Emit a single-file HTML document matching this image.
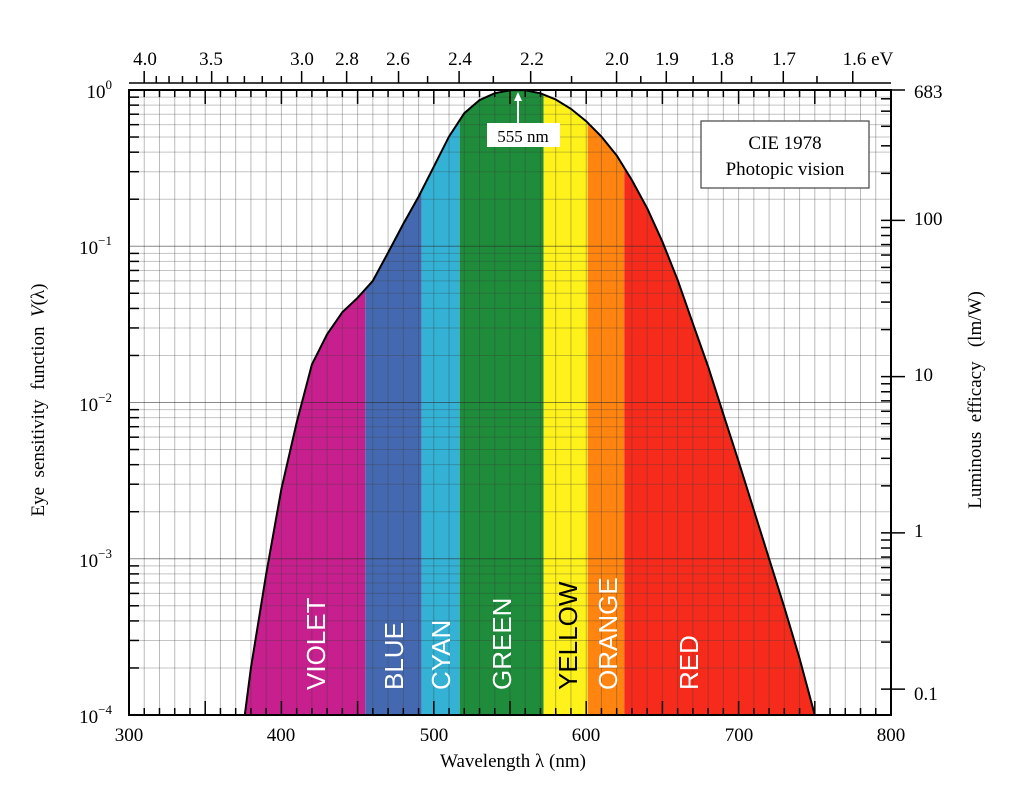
<!DOCTYPE html>
<html><head><meta charset="utf-8"><style>
html,body{margin:0;padding:0;background:#fff;}
svg{display:block;font-family:"Liberation Serif",serif;}
</style></head><body>
<svg id="s" width="1024" height="790" viewBox="0 0 1024 790" xmlns="http://www.w3.org/2000/svg">
<g id="bands"></g>
<g id="grid"></g>
<g id="ticks"></g>
<rect x="129" y="90" width="762" height="625" fill="none" stroke="#000" stroke-width="2"/>
<line x1="129" y1="83" x2="891" y2="83" stroke="#000" stroke-width="1.5"/>
<g font-family="Liberation Sans, sans-serif" font-size="26" fill="#fff">
<text transform="translate(325,690) rotate(-90)">VIOLET</text>
<text transform="translate(403,690) rotate(-90)">BLUE</text>
<text transform="translate(450,690) rotate(-90)">CYAN</text>
<text transform="translate(511,690) rotate(-90)">GREEN</text>
<text transform="translate(577,690) rotate(-90)" fill="#000">YELLOW</text>
<text transform="translate(617,690) rotate(-90)">ORANGE</text>
<text transform="translate(698,690) rotate(-90)">RED</text>
</g>
<line x1="518" y1="126" x2="518" y2="98" stroke="#fff" stroke-width="2"/>
<polygon points="518,92 514,101 522,101" fill="#fff"/>
<rect x="487" y="123" width="73" height="24" fill="#fff"/>
<text x="523" y="142" font-size="17" text-anchor="middle">555 nm</text>
<rect x="701" y="121" width="168" height="67" fill="#fff" stroke="#444" stroke-width="1.2"/>
<text x="785" y="149" font-size="19" text-anchor="middle">CIE 1978</text>
<text x="785" y="175" font-size="19" text-anchor="middle">Photopic vision</text>
<g font-size="19" text-anchor="middle">
<text x="129" y="741">300</text><text x="281" y="741">400</text><text x="434" y="741">500</text>
<text x="586" y="741">600</text><text x="739" y="741">700</text><text x="891" y="741">800</text>
<text x="513" y="767">Wavelength λ  (nm)</text>
</g>
<g font-size="19" text-anchor="end">
<text x="112" y="98">10<tspan font-size="13" dy="-9">0</tspan></text>
<text x="112" y="254">10<tspan font-size="13" dy="-9">−1</tspan></text>
<text x="112" y="411">10<tspan font-size="13" dy="-9">−2</tspan></text>
<text x="112" y="567">10<tspan font-size="13" dy="-9">−3</tspan></text>
<text x="112" y="723">10<tspan font-size="13" dy="-9">−4</tspan></text>
</g>
<g font-size="19">
<text x="914" y="98">683</text><text x="914" y="225">100</text><text x="914" y="381">10</text>
<text x="914" y="537">1</text><text x="914" y="700">0.1</text>
</g>
<text transform="translate(44,400) rotate(-90)" font-size="19" text-anchor="middle" xml:space="preserve">Eye  sensitivity  function  <tspan font-style="italic">V</tspan>(λ)</text>
<text transform="translate(981,400) rotate(-90)" font-size="19" text-anchor="middle" xml:space="preserve">Luminous  efficacy   (lm/W)</text>
<g id="top"></g>
<g id="toplbl" font-size="19" text-anchor="middle">
<text x="145" y="65">4.0</text><text x="211" y="65">3.5</text><text x="302" y="65">3.0</text>
<text x="347" y="65">2.8</text><text x="398" y="65">2.6</text><text x="460" y="65">2.4</text>
<text x="532" y="65">2.2</text><text x="617" y="65">2.0</text><text x="667" y="65">1.9</text>
<text x="722" y="65">1.8</text><text x="784" y="65">1.7</text><text x="868" y="65">1.6 eV</text>
</g>
<path id="curve" fill="none" stroke="#000" stroke-width="2"/>
</svg>
<script>
var NS="http://www.w3.org/2000/svg";
function X(l){return 129+(l-300)*1.524;}
function Y(v){return 90-Math.log10(v)*156.25;}
function el(p,t,a){var e=document.createElementNS(NS,t);for(var k in a)e.setAttribute(k,a[k]);document.getElementById(p).appendChild(e);return e;}
var d=[[376,1e-4],[380,2.0e-4],[390,8e-4],[400,2.8e-3],[410,7.4e-3],[420,1.75e-2],[430,2.73e-2],[440,3.79e-2],[450,4.68e-2],[460,6.0e-2],[470,9.1e-2],[480,0.139],[490,0.208],[500,0.323],[510,0.503],[520,0.710],[530,0.862],[540,0.954],[550,0.995],[555,1.0],[560,0.995],[570,0.952],[580,0.870],[590,0.757],[600,0.631],[610,0.503],[620,0.381],[630,0.265],[640,0.175],[650,0.107],[660,0.061],[670,0.032],[680,0.017],[690,8.4e-3],[700,4.2e-3],[710,2.05e-3],[720,1.0e-3],[730,4.9e-4],[740,2.3e-4],[750,1.0e-4]];
var pts=d.map(function(p){return X(p[0]).toFixed(1)+","+Y(p[1]).toFixed(1);});
var cp="M"+pts.join(" L");
document.getElementById("curve").setAttribute("d",cp);
var cl=el("bands","clipPath",{id:"cc"});
var pp=document.createElementNS(NS,"path");pp.setAttribute("d",cp+" Z");cl.appendChild(pp);
var b=[[370,455,"#c71f8e"],[455,492,"#4569b0"],[492,517,"#33b2d6"],[517,572,"#1e8c3a"],[572,601,"#fff21a"],[601,625,"#ff8410"],[625,760,"#f62b1c"]];
b.forEach(function(q){el("bands","rect",{x:X(q[0]),y:88,width:X(q[1])-X(q[0]),height:630,fill:q[2],"clip-path":"url(#cc)"});});
for(var l=310;l<800;l+=10)el("grid","line",{x1:X(l),y1:90,x2:X(l),y2:715,stroke:"rgba(60,60,60,0.35)","stroke-width":1});
for(var dec=0;dec<4;dec++)for(var m=1;m<10;m++){var y=Y(Math.pow(10,-dec-1)*m);if(y<=91)continue;el("grid","line",{x1:129,y1:y,x2:891,y2:y,stroke:m==1?"rgba(40,40,40,0.55)":"rgba(60,60,60,0.3)","stroke-width":1});}
for(var l=310;l<800;l+=10){var L=(l%50==0)?14:7;el("ticks","line",{x1:X(l),y1:715,x2:X(l),y2:715-L,stroke:"#000","stroke-width":1.5});el("ticks","line",{x1:X(l),y1:90,x2:X(l),y2:90+L,stroke:"#000","stroke-width":1.5});}
for(var dec=0;dec<4;dec++)for(var m=2;m<10;m++){var y=Y(Math.pow(10,-dec-1)*m);el("ticks","line",{x1:129,y1:y,x2:139,y2:y,stroke:"#000","stroke-width":1.5});}
function YR(v){return Y(v/683);}
[0.1,1,10,100].forEach(function(base){for(var m=1;m<10;m++){var v=base*m;if(v>683)continue;var y=YR(v);if(y>715)continue;el("ticks","line",{x1:881,y1:y,x2:(m==1?905:891),y2:y,stroke:"#000","stroke-width":1.5});}});
el("ticks","line",{x1:891,y1:90,x2:905,y2:90,stroke:"#000","stroke-width":1.5});
var ev=[];for(var e=4.0;e>=1.6-1e-9;e-=0.1)ev.push(Math.round(e*10)/10);
[1.95,1.85,1.75,1.65].forEach(function(e){ev.push(e);});
ev.forEach(function(q){var l=1239.84/q;var x=X(l);if(x<129||x>891)return;var lab=[4.0,3.5,3.0,2.8,2.6,2.4,2.2,2.0,1.9,1.8,1.7,1.6].indexOf(q)>=0;el("top","line",{x1:x,y1:83,x2:x,y2:lab?71:76,stroke:"#000","stroke-width":1.5});});
</script>
</body></html>
